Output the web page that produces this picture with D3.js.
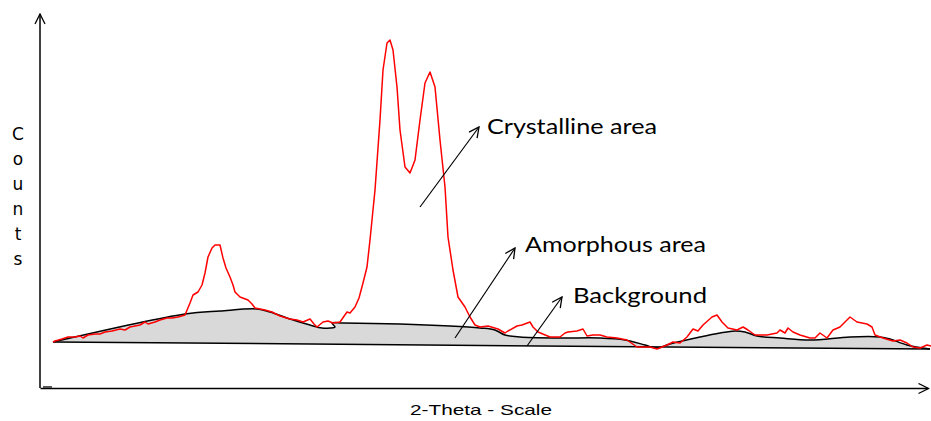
<!DOCTYPE html>
<html>
<head>
<meta charset="utf-8">
<script src="https://cdn.jsdelivr.net/npm/d3@7"></script>
<style>
  body { margin: 0; background: #fff; }
  svg { display: block; }
</style>
</head>
<body>
<div id="chart"></div>
<script>
// measured pattern (2-theta in degrees, counts)
var twoTheta = [2.65, 2.75, 3.10, 3.40, 3.75, 4.00, 4.15, 4.40, 4.75, 5.00, 5.25, 5.60, 6.00, 6.25, 6.50, 7.00, 7.25, 7.40, 7.75, 8.00,
  8.35, 8.60, 8.90, 9.25, 9.50, 9.65, 9.90, 10.10, 10.25, 10.40, 10.60, 10.75, 11.00, 11.15, 11.30, 11.50, 11.65, 11.75, 12.00, 12.40,
  12.60, 12.75, 13.25, 13.60, 14.00, 14.50, 14.85, 15.15, 15.50, 15.70, 15.85, 16.15, 16.40, 16.65, 17.00, 17.35, 17.50, 17.75, 17.95, 18.15,
  18.35, 18.50, 18.75, 19.00, 19.15, 19.35, 19.50, 19.65, 19.85, 20.00, 20.25, 20.50, 20.75, 21.00, 21.25, 21.50, 21.75, 22.00, 22.25, 22.40,
  22.65, 22.90, 23.25, 23.50, 23.75, 24.00, 24.40, 24.90, 25.25, 25.40, 25.85, 26.10, 26.50, 26.65, 26.90, 27.50, 28.00, 28.25, 28.40, 28.85,
  29.15, 29.35, 29.65, 30.00, 30.35, 30.85, 31.35, 31.85, 32.50, 32.85, 33.35, 33.65, 34.00, 34.35, 34.65, 34.90, 35.15, 35.60, 35.85, 36.10,
  36.40, 36.85, 37.15, 37.40, 37.75, 38.35, 38.85, 39.00, 39.25, 39.40, 39.65, 40.00, 40.50, 40.75, 41.00, 41.35, 41.65, 42.00, 42.35, 42.50,
  42.85, 43.35, 43.60, 43.75, 44.15, 44.65, 45.00, 45.35, 45.65, 46.00, 46.35, 46.55];
var counts = [460, 470, 490, 510, 510, 520, 500, 530, 540, 540, 560, 570, 590, 580, 610, 630, 660, 640, 660, 680,
  700, 700, 710, 730, 850, 930, 960, 1030, 1150, 1310, 1400, 1430, 1430, 1300, 1200, 1110, 1030, 960, 910, 880,
  840, 800, 780, 760, 720, 690, 680, 660, 690, 640, 610, 660, 670, 650, 660, 760, 750, 810, 900, 1050,
  1210, 1480, 1980, 2680, 3180, 3450, 3480, 3380, 3010, 2580, 2210, 2150, 2280, 2680, 3050, 3160, 3010, 2480, 2010, 1510,
  1180, 910, 810, 710, 630, 610, 620, 590, 550, 570, 620, 630, 660, 610, 560, 510, 510, 550, 560, 570,
  590, 520, 530, 530, 510, 500, 480, 410, 410, 390, 430, 460, 450, 510, 590, 570, 630, 710, 730, 660,
  600, 580, 610, 580, 530, 530, 550, 580, 550, 600, 560, 530, 500, 500, 550, 500, 580, 610, 680, 710,
  660, 640, 610, 530, 500, 470, 480, 450, 410, 400, 430, 420];

// amorphous hump (hand drawn outline)
var amorphTheta = [2.65, 9.25, 11.00, 12.85, 13.50, 14.50, 15.50, 16.10, 16.50, 16.75, 16.60, 17.15, 20.00, 22.50, 24.00, 24.75,
  25.25, 26.00, 28.00, 30.00, 31.25, 32.25, 32.85, 33.50, 35.00, 36.00, 36.75, 37.25, 37.85, 39.00, 40.50, 42.50, 44.00, 44.50, 45.35, 46.50];
var amorphCounts = [460, 740, 770, 790, 760, 690, 630, 600, 600, 610, 650, 650, 640, 620, 600, 580,
  530, 510, 500, 500, 480, 430, 400, 440, 510, 550, 570, 560, 520, 500, 480, 510, 510, 490, 430, 390];

// background line
var bgTheta = [2.65, 46.5];
var bgCounts = [460, 390];

// labels with arrows
var labels = ["Crystalline area", "Amorphous area", "Background"];
var labelTheta = [24.35, 26.25, 28.65];
var labelCounts = [2540, 1360, 850];
var arrowFrom = [[21.0, 1810], [22.75, 500], [26.35, 420]];
var arrowTo = [[23.95, 2610], [25.75, 1400], [28.1, 910]];

var width = 931, height = 421;
var margin = {top: 14, right: 3, bottom: 33, left: 40};
var labelWidths = [170, 181, 134];

var x = d3.scaleLinear().domain([2, 46.4]).range([margin.left, width - margin.right]);
var y = d3.scaleLinear().domain([0, 3740]).range([height - margin.bottom, margin.top]);

var svg = d3.select("#chart").append("svg")
    .attr("width", width)
    .attr("height", height);

var defs = svg.append("defs");
defs.append("marker")
    .attr("id", "arrow")
    .attr("viewBox", "0 0 12 12")
    .attr("refX", 11)
    .attr("refY", 6)
    .attr("markerWidth", 12)
    .attr("markerHeight", 12)
    .attr("markerUnits", "userSpaceOnUse")
    .attr("orient", "auto")
    .append("path")
    .attr("d", "M1,1 L11,6 L1,11")
    .attr("fill", "none")
    .attr("stroke", "#000")
    .attr("stroke-width", 1.3);

var amorph = amorphTheta.map((t, i) => [t, amorphCounts[i]]);
var bg = bgTheta.map((t, i) => [t, bgCounts[i]]);
var pattern = twoTheta.map((t, i) => [t, counts[i]]);

var amorphLine = d3.line()
    .x(d => x(d[0]))
    .y(d => y(d[1]))
    .curve(d3.curveCatmullRom.alpha(0.5));

// gray fill between amorphous outline and background
var fillPath = amorphLine(amorph) +
    "L" + x(bg[1][0]) + "," + y(bg[1][1]) +
    "L" + x(bg[0][0]) + "," + y(bg[0][1]) + "Z";
svg.append("path")
    .attr("d", fillPath)
    .attr("fill", "#d9d9d9")
    .attr("stroke", "none");

svg.append("path")
    .attr("d", d3.line().x(d => x(d[0])).y(d => y(d[1]))(bg))
    .attr("fill", "none")
    .attr("stroke", "#000")
    .attr("stroke-width", 1.5);

svg.append("path")
    .attr("d", amorphLine(amorph))
    .attr("fill", "none")
    .attr("stroke", "#000")
    .attr("stroke-width", 1.5);

svg.append("path")
    .attr("d", d3.line().x(d => x(d[0])).y(d => y(d[1]))(pattern))
    .attr("fill", "none")
    .attr("stroke", "#ff0000")
    .attr("stroke-width", 1.5)
    .attr("stroke-linejoin", "round");

// axes, no ticks
var xAxis = svg.append("g")
    .attr("transform", "translate(0," + y(0) + ")")
    .call(d3.axisBottom(x).tickValues([]).tickSizeOuter(0));
xAxis.select(".domain").attr("stroke", "#000").attr("stroke-width", 1.5).attr("marker-end", "url(#arrow)");

var yAxis = svg.append("g")
    .attr("transform", "translate(" + x(2) + ",0)")
    .call(d3.axisLeft(y).tickValues([]).tickSizeOuter(0));
// redraw y domain bottom-to-top so the arrow points up
yAxis.select(".domain").remove();
svg.append("line")
    .attr("x1", x(2)).attr("y1", y(0))
    .attr("x2", x(2)).attr("y2", y(3740))
    .attr("stroke", "#000")
    .attr("stroke-width", 1.5)
    .attr("marker-end", "url(#arrow)");

svg.append("line")
    .attr("x1", x(2) + 3).attr("x2", x(2) + 12)
    .attr("y1", y(0) - 1).attr("y2", y(0) - 1)
    .attr("stroke", "#555")
    .attr("stroke-width", 2);

// annotation arrows
arrowFrom.forEach((f, i) => {
    svg.append("line")
        .attr("x1", x(f[0])).attr("y1", y(f[1]))
        .attr("x2", x(arrowTo[i][0])).attr("y2", y(arrowTo[i][1]))
        .attr("stroke", "#000")
        .attr("stroke-width", 1.2)
        .attr("marker-end", "url(#arrow)");
});

svg.selectAll(".label")
    .data(labels)
    .enter()
    .append("text")
    .attr("class", "label")
    .attr("x", (d, i) => x(labelTheta[i]))
    .attr("y", (d, i) => y(labelCounts[i]))
    .attr("textLength", (d, i) => labelWidths[i])
    .attr("lengthAdjust", "spacingAndGlyphs")
    .style("font-family", "Lato, 'Open Sans', sans-serif")
    .style("font-size", "21px")
    .attr("fill", "#000")
    .text(d => d);

// axis titles
svg.append("text")
    .attr("x", 410)
    .attr("y", 415)
    .attr("textLength", 142)
    .attr("lengthAdjust", "spacingAndGlyphs")
    .style("font-family", "'Liberation Sans', Arial, sans-serif")
    .style("font-size", "15px")
    .text("2-Theta - Scale");

var yTitle = "Counts".split("");
svg.selectAll(".ylet")
    .data(yTitle)
    .enter()
    .append("text")
    .attr("class", "ylet")
    .attr("x", 18)
    .attr("y", (d, i) => 140 + i * 25)
    .attr("text-anchor", "middle")
    .style("font-family", "'DejaVu Sans', sans-serif")
    .style("font-size", "17px")
    .text(d => d);
</script>
</body>
</html>
